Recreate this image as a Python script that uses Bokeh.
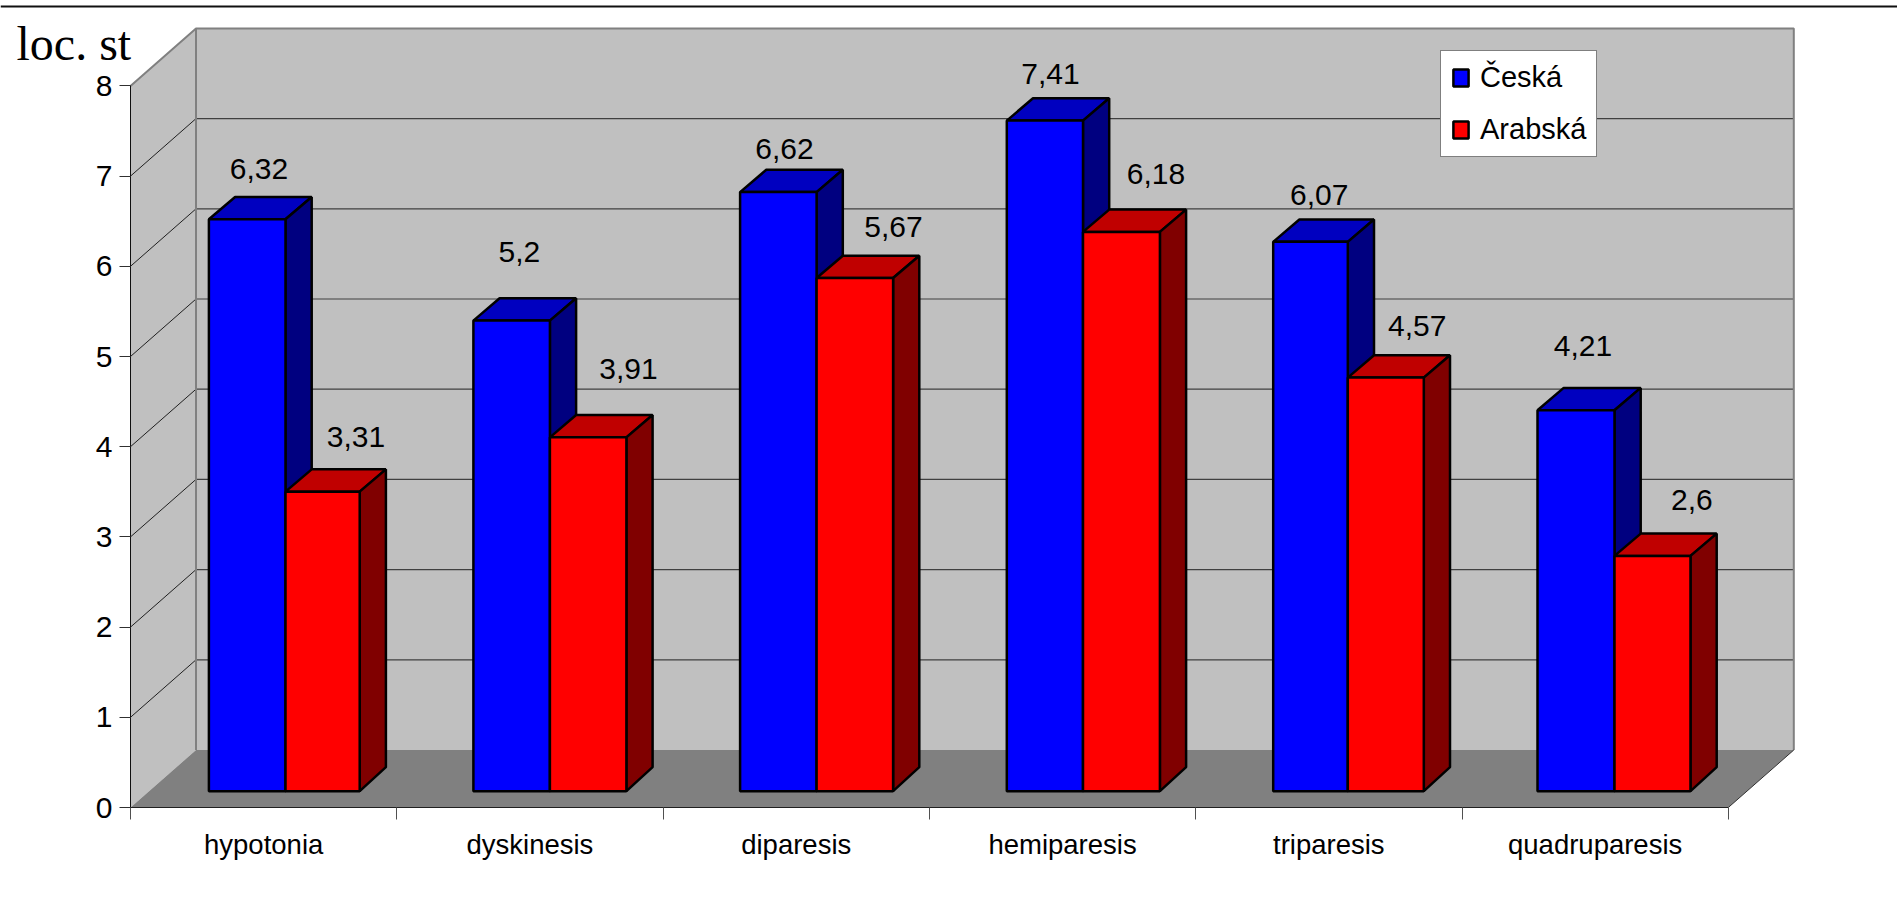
from bokeh.plotting import figure
from bokeh.models import (ColumnDataSource, FixedTicker, Legend, LegendItem, LinearAxis,
                          Range1d, Span)
from bokeh.core.properties import value
from bokeh.embed import file_html
from bokeh.resources import INLINE

categories = ["hypotonia", "dyskinesis", "diparesis", "hemiparesis", "triparesis", "quadruparesis"]
ceska = [6.32, 5.2, 6.62, 7.41, 6.07, 4.21]
arabska = [3.31, 3.91, 5.67, 6.18, 4.57, 2.6]
ceska_text = ["6,32", "5,2", "6,62", "7,41", "6,07", "4,21"]
arabska_text = ["3,31", "3,91", "5,67", "6,18", "4,57", "2,6"]
y_ticks = [0, 1, 2, 3, 4, 5, 6, 7, 8]

# label nudges in pixels, from the bar's front top-left corner
ceska_dx = [50, 46, 44.4, 43.7, 46, 45.4]
ceska_dy = [50.3, 68.8, 43.2, 46.2, 47.2, 63.7]
arabska_dx = [70.5, 78.6, 76.8, 72.9, 69.4, 77.3]
arabska_dy = [54.4, 68.2, 51.5, 57.5, 51.8, 55.8]

# layout of the bars on the page, in pixels
edge_left = [208.4, 472.9, 739.6, 1006.3, 1272.7, 1537]
edge_mid = [285, 549.4, 816.1, 1082.5, 1347.3, 1614]
edge_right = [359.2, 625.9, 892.6, 1159.4, 1423.3, 1690]

# geometry in data units
UX, UY = 266.3, 90.2
ZERO_X, ZERO_Y = 130, 807
W, H = 1897, 912
wall_dx, wall_dy = 65.5 / UX, 57.5 / UY
bar_dx, bar_dy = 26.2 / UX, 24.0 / UY
lid_dy = 22.3 / UY
base = 16.3 / UY
bar_scale = 90.5 / UY
n = len(categories)


def px(xs):
    return [(a - ZERO_X) / UX for a in xs]


p = figure(width=W, height=H, output_backend="svg", toolbar_location=None,
           x_range=Range1d(-ZERO_X / UX, (W - ZERO_X) / UX),
           y_range=Range1d(-(H - ZERO_Y) / UY, ZERO_Y / UY),
           min_border=0, x_axis_type=None, y_axis_type=None, outline_line_color=None,
           margin=(0, 0, 0, 0))
p.xgrid.visible = False
p.ygrid.visible = False

# walls and floor
top = y_ticks[-1]
p.patch([0, wall_dx, wall_dx, 0], [0, wall_dy, top + wall_dy, top], fill_color="#c0c0c0", line_color=None)
p.patch([wall_dx, n + wall_dx, n + wall_dx, wall_dx], [wall_dy, wall_dy, top + wall_dy, top + wall_dy],
        fill_color="#c0c0c0", line_color=None)
p.patch([0, n, n + wall_dx, wall_dx], [0, 0, wall_dy, wall_dy], fill_color="#808080", line_color=None)

# grid lines on the back and left walls
levels = y_ticks[1:-1]
p.multi_line([[wall_dx, n + wall_dx] for _ in levels], [[k + wall_dy, k + wall_dy] for k in levels],
             line_color="#404040", line_width=1.2)
p.multi_line([[0, wall_dx] for _ in levels], [[k, k + wall_dy] for k in levels],
             line_color="#202020", line_width=1)
# wall edges
p.line([0, wall_dx, n + wall_dx, n + wall_dx], [top, top + wall_dy, top + wall_dy, wall_dy],
       line_color="#808080", line_width=2)
p.line([wall_dx, wall_dx], [wall_dy, top + wall_dy], line_color="#808080", line_width=2)
p.line([n, n + wall_dx], [0, wall_dy], line_color="#303030", line_width=1)
p.line([0, n], [0, 0], line_color="#202020", line_width=1.2)


def draw_series(values, left, right, front, lid, side):
    tops = [v * bar_scale + base for v in values]
    # lid
    p.patches([[a, b, b + bar_dx, a + bar_dx] for a, b in zip(left, right)],
              [[t, t, t + lid_dy, t + lid_dy] for t in tops],
              fill_color=lid, line_color="black", line_width=2.5)
    # side
    p.patches([[b, b + bar_dx, b + bar_dx, b] for b in right],
              [[t, t + lid_dy, base + bar_dy, base] for t in tops],
              fill_color=side, line_color="black", line_width=2.5)
    # front
    r = p.quad(left=left, right=right, bottom=[base] * n, top=tops,
               fill_color=front, line_color="black", line_width=2.5)
    return r, tops


left_c, left_a, right_a = px(edge_left), px(edge_mid), px(edge_right)
r_ceska, tops_c = draw_series(ceska, left_c, left_a, "#0000ff", "#0000c0", "#000080")
r_arabska, tops_a = draw_series(arabska, left_a, right_a, "#ff0000", "#c00000", "#800000")

# value labels
src = ColumnDataSource(dict(
    x=left_c + left_a,
    y=tops_c + tops_a,
    t=ceska_text + arabska_text,
    xo=ceska_dx + arabska_dx,
    yo=[-d for d in ceska_dy] + [-d for d in arabska_dy],
))
p.text(x="x", y="y", text="t", x_offset="xo", y_offset="yo", source=src,
       text_align="center", text_baseline="alphabetic",
       text_font=value("Liberation Sans"), text_font_size="30px", text_color="black")

# axes, held inside the full-page frame at the chart's origin
yax = LinearAxis(ticker=FixedTicker(ticks=y_ticks), bounds=(0, top), fixed_location=0)
yax.axis_line_color = "#101010"
yax.axis_line_width = 1
yax.major_tick_line_color = "#303030"
yax.major_tick_out = 11
yax.major_tick_in = 0
yax.minor_tick_line_color = None
yax.major_label_standoff = 7
yax.major_label_text_font = "Liberation Sans"
yax.major_label_text_font_size = "30px"
yax.major_label_text_color = "black"
p.add_layout(yax, "left")

centers = [i + 0.5 for i in range(n)]
xax = LinearAxis(ticker=FixedTicker(ticks=centers, minor_ticks=list(range(n + 1))), bounds=(0, n),
                 fixed_location=0)
xax.major_label_overrides = {c: t for c, t in zip(centers, categories)}
xax.axis_line_color = None
xax.major_tick_line_color = None
xax.major_tick_out = 0
xax.major_tick_in = 0
xax.minor_tick_line_color = "#505050"
xax.minor_tick_out = 12
xax.minor_tick_in = 0
xax.major_label_standoff = 9
xax.major_label_text_font = "Liberation Sans"
xax.major_label_text_font_size = "27.5px"
xax.major_label_text_color = "black"
p.add_layout(xax, "below")

legend = Legend(items=[LegendItem(label="Česká", renderers=[r_ceska]),
                       LegendItem(label="Arabská", renderers=[r_arabska])],
                location=(1440, H - 157),
                orientation="vertical", margin=0, padding=10, spacing=19,
                glyph_width=19, glyph_height=21, label_standoff=10,
                label_text_font="Liberation Sans", label_text_font_size="29px",
                label_text_color="black", label_text_line_height=1.0,
                background_fill_color="white", background_fill_alpha=1,
                border_line_color="black", border_line_width=1.5)
p.add_layout(legend, "center")

# caption of the value axis and the rule across the top of the page
p.text(x=[(16 - ZERO_X) / UX], y=[(ZERO_Y - 62 + 19) / UY], text=["loc. st"], text_align="left",
       text_baseline="alphabetic", text_font=value("Liberation Serif"), text_font_size="48px",
       text_color="black")
p.add_layout(Span(location=(ZERO_Y - 6) / UY, dimension="width", line_color="#101010", line_width=2))

open("out.html", "w").write(file_html(p, INLINE))
